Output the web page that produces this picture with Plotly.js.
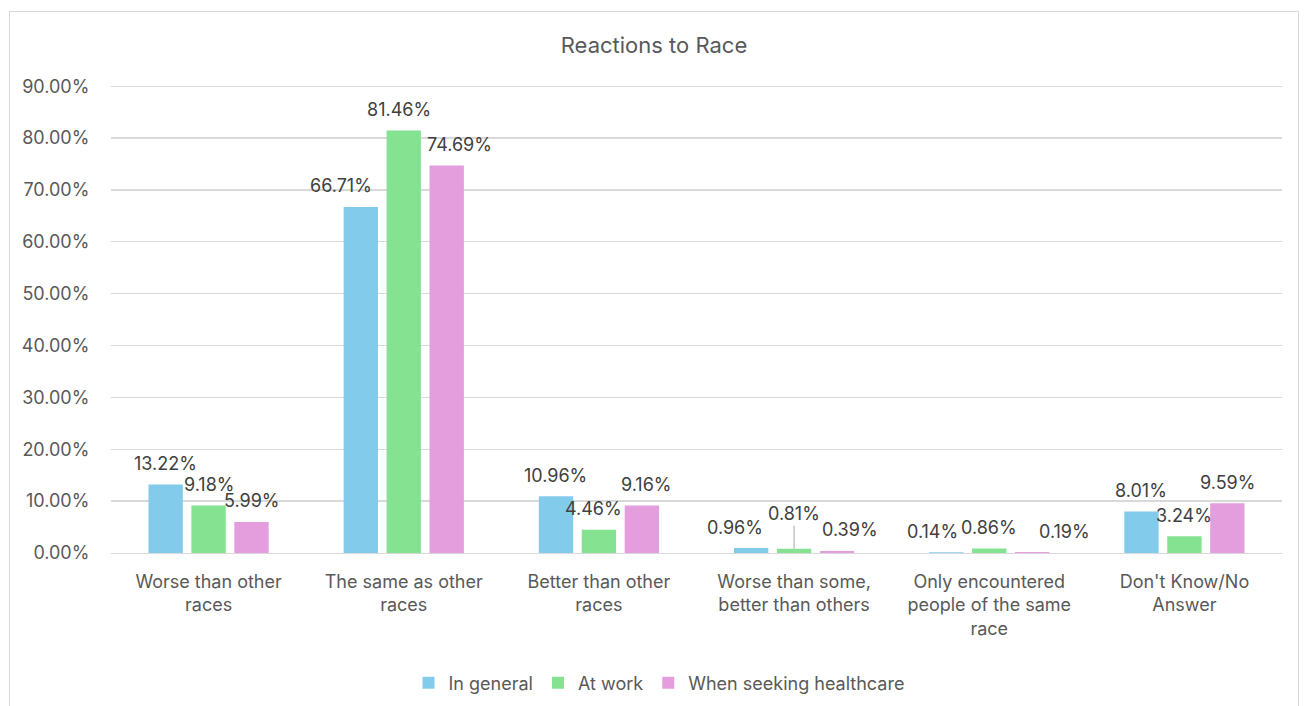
<!DOCTYPE html>
<html>
<head>
<meta charset="utf-8">
<script src="https://cdn.plot.ly/plotly-3.0.1.min.js"></script>
<style>
  html, body { margin: 0; padding: 0; background: #ffffff; overflow: hidden; }
  #frame { position: absolute; left: 9px; top: 11px; width: 1290px; height: 710px; border: 1px solid #d9d9d9; box-sizing: border-box; }
  #chart { width: 100%; height: 100%; }
</style>
</head>
<body>
<div id="frame"><div id="chart"></div></div>
<script>
const categories = [
  "Worse than other<br>races",
  "The same as other<br>races",
  "Better than other<br>races",
  "Worse than some,<br>better than others",
  "Only encountered<br>people of the same<br>race",
  "Don't Know/No<br>Answer"
];
const seriesNames = ["In general", "At work", "When seeking healthcare"];
const inGeneral = [13.22, 66.71, 10.96, 0.96, 0.14, 8.01];
const atWork = [9.18, 81.46, 4.46, 0.81, 0.86, 3.24];
const healthcare = [5.99, 74.69, 9.16, 0.39, 0.19, 9.59];
const colors = ["#83CBEB", "#84E291", "#E59EDD"];
const yTickVals = [0, 10, 20, 30, 40, 50, 60, 70, 80, 90];
const yTickText = ["0.00%", "10.00%", "20.00%", "30.00%", "40.00%", "50.00%", "60.00%", "70.00%", "80.00%", "90.00%"];

// label placement nudges (pixels), like the spreadsheet's overlap avoidance
const labelNudgeX = [
  [0, -20, 0, -16, -14, 0],
  [0, -5, -5, 0, 0, 0],
  [0, 13, 5, 13, 32, 0]
];
const labelLift = [
  [21, 21, 21, 21, 21, 21],
  [21, 21, 21, 35, 21, 21],
  [21, 21, 21, 21, 21, 21]
];
const leaderLine = [
  [false, false, false, false, false, false],
  [false, false, false, true, false, false],
  [false, false, false, false, false, false]
];

const FONT = "Inter, 'Open Sans', Roboto, Arial, sans-serif";
const bargap = 0.34;
const slot = (1 - bargap) / 3;

const allSeries = [inGeneral, atWork, healthcare];
const traces = allSeries.map((vals, i) => ({
  type: "bar",
  name: seriesNames[i],
  x: categories,
  y: vals,
  marker: { color: colors[i] },
  hoverinfo: "skip"
}));

const annotations = [];
allSeries.forEach((vals, i) => {
  vals.forEach((v, j) => {
    annotations.push({
      xref: "x", yref: "y",
      x: j + (i - 1) * slot,
      y: v,
      text: v.toFixed(2) + "%",
      showarrow: true,
      arrowhead: 0,
      arrowwidth: 1,
      arrowcolor: leaderLine[i][j] ? "#a6a6a6" : "rgba(0,0,0,0)",
      standoff: 0,
      ax: labelNudgeX[i][j],
      ay: -labelLift[i][j],
      font: { family: FONT, size: 18, color: "#404040" }
    });
  });
});

const layout = {
  width: 1288,
  height: 708,
  margin: { l: 101, r: 16, t: 69, b: 167 },
  paper_bgcolor: "#ffffff",
  plot_bgcolor: "#ffffff",
  font: { family: FONT, color: "#595959" },
  title: {
    text: "Reactions to Race",
    font: { family: FONT, size: 22, color: "#595959" },
    x: 0.5, xanchor: "center",
    yref: "container", y: 1 - 33 / 708, yanchor: "middle"
  },
  barmode: "group",
  bargap: bargap,
  bargroupgap: 0.2,
  xaxis: {
    type: "category",
    tickfont: { family: FONT, size: 18, color: "#595959" },
    showgrid: false,
    showline: true,
    linecolor: "#d9d9d9",
    linewidth: 1.3,
    ticks: "",
    ticklabelstandoff: 12
  },
  yaxis: {
    range: [0, 91],
    tickvals: yTickVals,
    ticktext: yTickText,
    tickfont: { family: FONT, size: 18, color: "#595959" },
    showgrid: true,
    gridcolor: "#d9d9d9",
    gridwidth: 1.3,
    zeroline: false,
    showline: false,
    ticks: "outside",
    ticklen: 17,
    tickcolor: "rgba(0,0,0,0)"
  },
  annotations: annotations,
  showlegend: true,
  legend: {
    orientation: "h",
    x: 0.468, xanchor: "center",
    yref: "container", y: 1 - 671 / 708, yanchor: "middle",
    font: { family: FONT, size: 18, color: "#595959" },
    itemwidth: 30,
    traceorder: "normal"
  }
};

Plotly.newPlot("chart", traces, layout, { displayModeBar: false, staticPlot: true });
</script>
</body>
</html>
